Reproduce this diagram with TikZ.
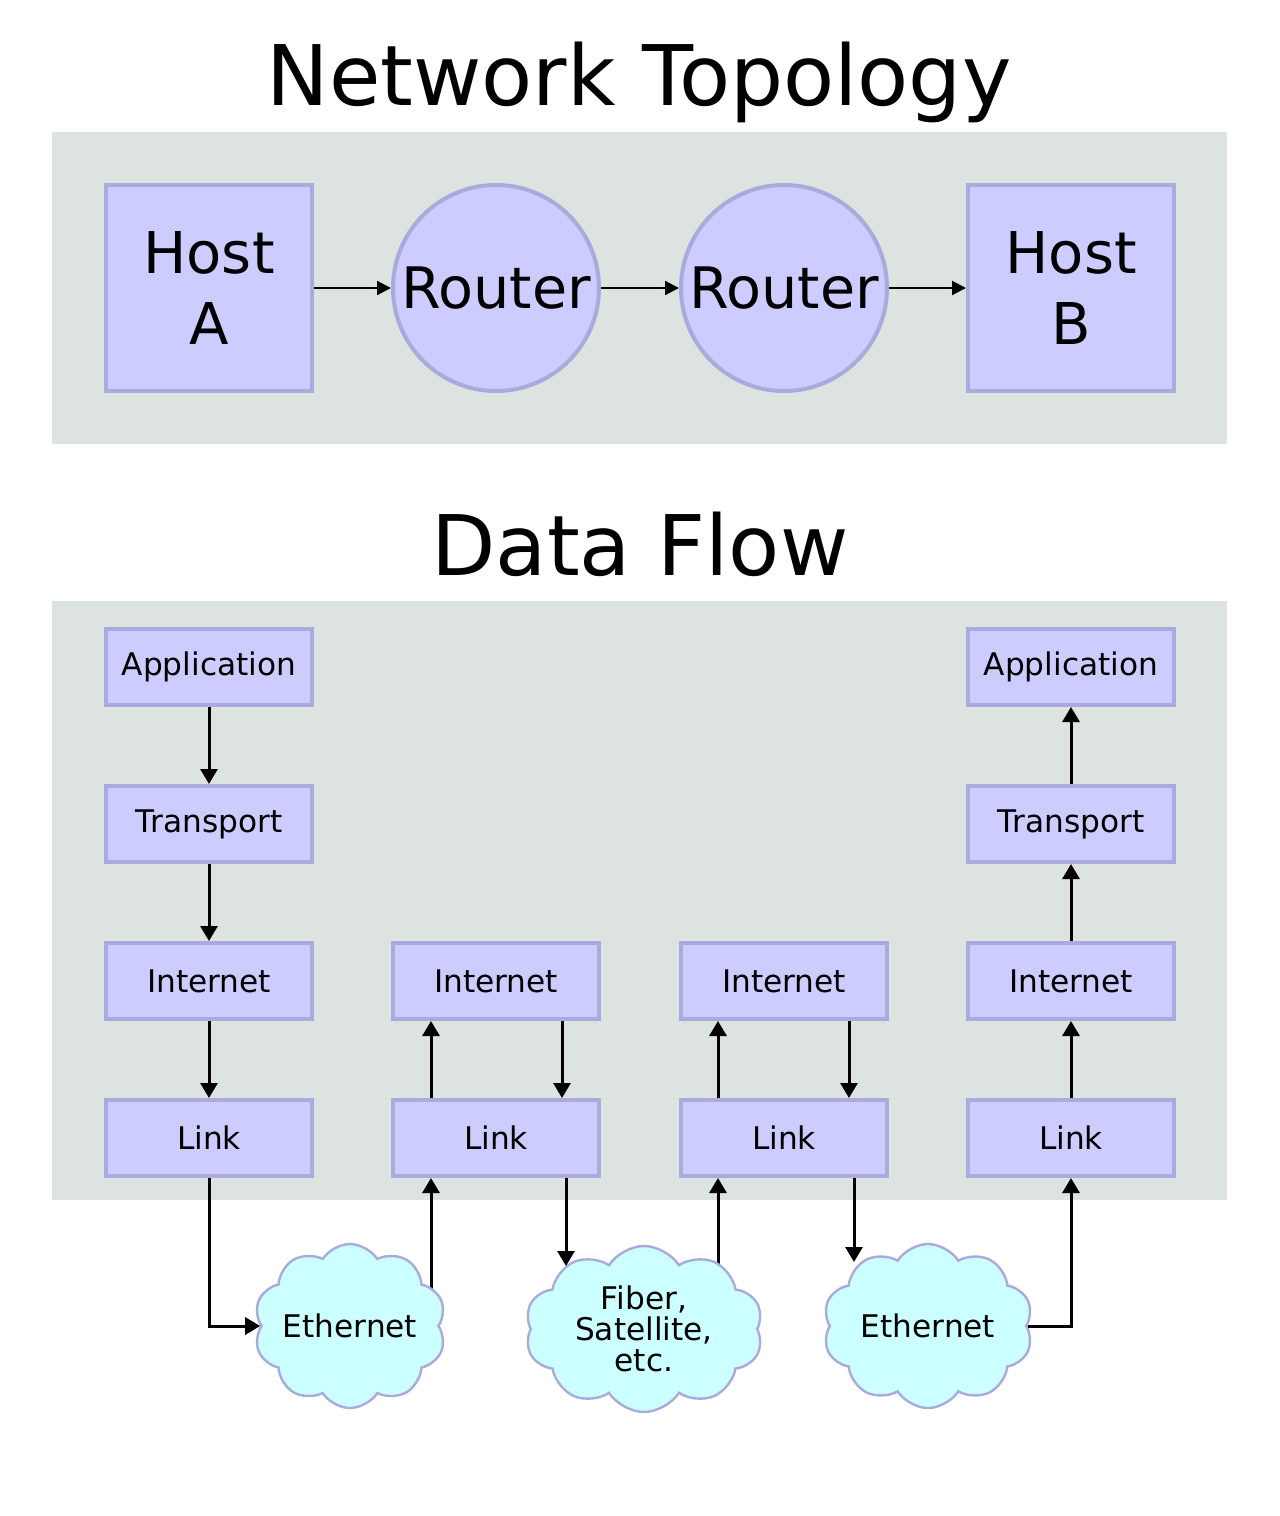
\documentclass[tikz,border=0pt]{standalone}
\usepackage{fontspec}
\setmainfont{DejaVu Sans}
\usetikzlibrary{arrows.meta,shapes.symbols}
\definecolor{panel}{HTML}{DCE3E1}
\definecolor{boxfill}{HTML}{CCCCFF}
\definecolor{boxline}{HTML}{AAAADD}
\definecolor{cloudfill}{HTML}{CCFFFF}
\tikzset{
  layerbox/.style={draw=boxline, fill=boxfill, line width=2pt, minimum width=103pt, minimum height=38pt, inner sep=0pt, font=\fontsize{15.6}{18}\selectfont},
  hostbox/.style={layerbox, minimum height=103pt, font=\fontsize{28.8}{35.5}\selectfont, align=center},
  routerc/.style={circle, draw=boxline, fill=boxfill, line width=2pt, minimum size=103pt, inner sep=0pt, font=\fontsize{28.6}{34}\selectfont},
  net/.style={cloud, cloud puffs=10, cloud puff arc=115, cloud ignores aspect, draw=boxline, fill=cloudfill, line width=1.2pt, inner sep=0pt},
  nettext/.style={font=\fontsize{15.6}{15.5}\selectfont, align=center, inner sep=0pt},
  flow/.style={-{Triangle[length=7.5pt,width=8.5pt]}, line width=1.5pt},
  topflow/.style={-{Triangle[length=7pt,width=7pt]}, line width=1.1pt},
  titletext/.style={font=\fontsize{41.8}{48}\selectfont, anchor=base},
  panelbg/.style={fill=panel}
}
\begin{document}
\begin{tikzpicture}[x=0.5pt,y=-0.5pt]
\useasboundingbox (0,0) rectangle (1280,1516);
% titles
\node[titletext] (t1) at (639,105) {Network Topology};
\node[titletext] (t2) at (640,575) {Data Flow};
% panels
\path[panelbg] (52,132) rectangle (1227,444);
\path[panelbg] (52,601) rectangle (1227,1200);
% topology
\node[hostbox] (ha) at (209,288) {Host\\A};
\node[routerc] (r1) at (496,288) {Router};
\node[routerc] (r2) at (784,288) {Router};
\node[hostbox] (hb) at (1071,288) {Host\\B};
\draw[topflow] (ha) -- (r1);
\draw[topflow] (r1) -- (r2);
\draw[topflow] (r2) -- (hb);
% data flow column 1
\node[layerbox] (a1) at (209,667) {Application};
\node[layerbox] (tr1) at (209,824) {Transport};
\node[layerbox] (i1) at (209,981) {Internet};
\node[layerbox] (l1) at (209,1138) {Link};
% column 2
\node[layerbox] (i2) at (496,981) {Internet};
\node[layerbox] (l2) at (496,1138) {Link};
% column 3
\node[layerbox] (i3) at (784,981) {Internet};
\node[layerbox] (l3) at (784,1138) {Link};
% column 4
\node[layerbox] (a4) at (1071,667) {Application};
\node[layerbox] (tr4) at (1071,824) {Transport};
\node[layerbox] (i4) at (1071,981) {Internet};
\node[layerbox] (l4) at (1071,1138) {Link};
% cloud attachment points (the out-going lines start under the clouds)
\coordinate (c1out) at (431,1300);
\coordinate (c2in) at (566,1266);
\coordinate (c2out) at (718,1300);
\coordinate (c3in) at (854,1262);
\draw[flow] (c1out) -- (c1out |- l2.south);
\draw[flow] (c2out) -- (c2out |- l3.south);
% clouds
\node[net, minimum width=96pt, minimum height=82pt] (c1) at (350,1326) {};
\node[net, minimum width=119pt, minimum height=83pt] (c2) at (644,1329) {};
\node[net, minimum width=105pt, minimum height=82pt] (c3) at (928,1326) {};
\node[nettext] (c1t) at (c1.center) {Ethernet};
\node[nettext] (c2t) at (c2.center) {Fiber,\\Satellite,\\etc.};
\node[nettext] (c3t) at (c3.center) {Ethernet};
% vertical flows
\draw[flow] (a1) -- (tr1);
\draw[flow] (tr1) -- (i1);
\draw[flow] (i1) -- (l1);
\draw[flow] ([xshift=20pt]l2.north west) -- ([xshift=20pt]i2.south west);
\draw[flow] ([xshift=-19.5pt]i2.south east) -- ([xshift=-19.5pt]l2.north east);
\draw[flow] ([xshift=19.5pt]l3.north west) -- ([xshift=19.5pt]i3.south west);
\draw[flow] ([xshift=-20pt]i3.south east) -- ([xshift=-20pt]l3.north east);
\draw[flow] (l4) -- (i4);
\draw[flow] (i4) -- (tr4);
\draw[flow] (tr4) -- (a4);
% to and from the clouds
\draw[flow] (l1.south) |- (c1.west);
\draw[flow] (c2in |- l2.south) -- (c2in);
\draw[flow] (c3in |- l3.south) -- (c3in);
\draw[flow] (c3.east) -| (l4.south);
\end{tikzpicture}
\end{document}
